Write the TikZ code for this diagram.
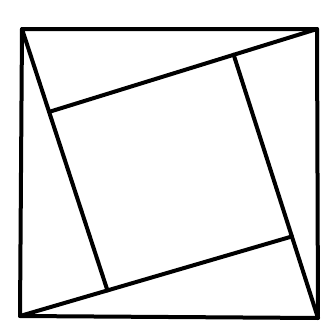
\documentclass[tikz,border=0pt]{standalone}
\begin{document}
\begin{tikzpicture}[x=1pt,y=-1pt,
  edge/.style={line width=4pt,line join=round,line cap=round,black}]
\useasboundingbox (0,0) rectangle (321,330);
\coordinate (A) at (22,29);
\coordinate (B) at (317,29);
\coordinate (C) at (318,318);
\coordinate (D) at (20,316);
\coordinate (P0) at (52,111);
\coordinate (Q0) at (235,59);
\coordinate (R0) at (290,237);
\coordinate (S0) at (106,286);
\coordinate (P) at (intersection of B--P0 and A--S0);
\coordinate (Q) at (intersection of Q0--C and B--P0);
\coordinate (R) at (intersection of D--R0 and Q0--C);
\coordinate (S) at (intersection of A--S0 and D--R0);
\draw[edge] (A) -- (B) -- (C) -- (D) -- cycle;
\draw[edge] (A) -- (S);
\draw[edge] (B) -- (P);
\draw[edge] (Q) -- (C);
\draw[edge] (D) -- (R);
\end{tikzpicture}
\end{document}
